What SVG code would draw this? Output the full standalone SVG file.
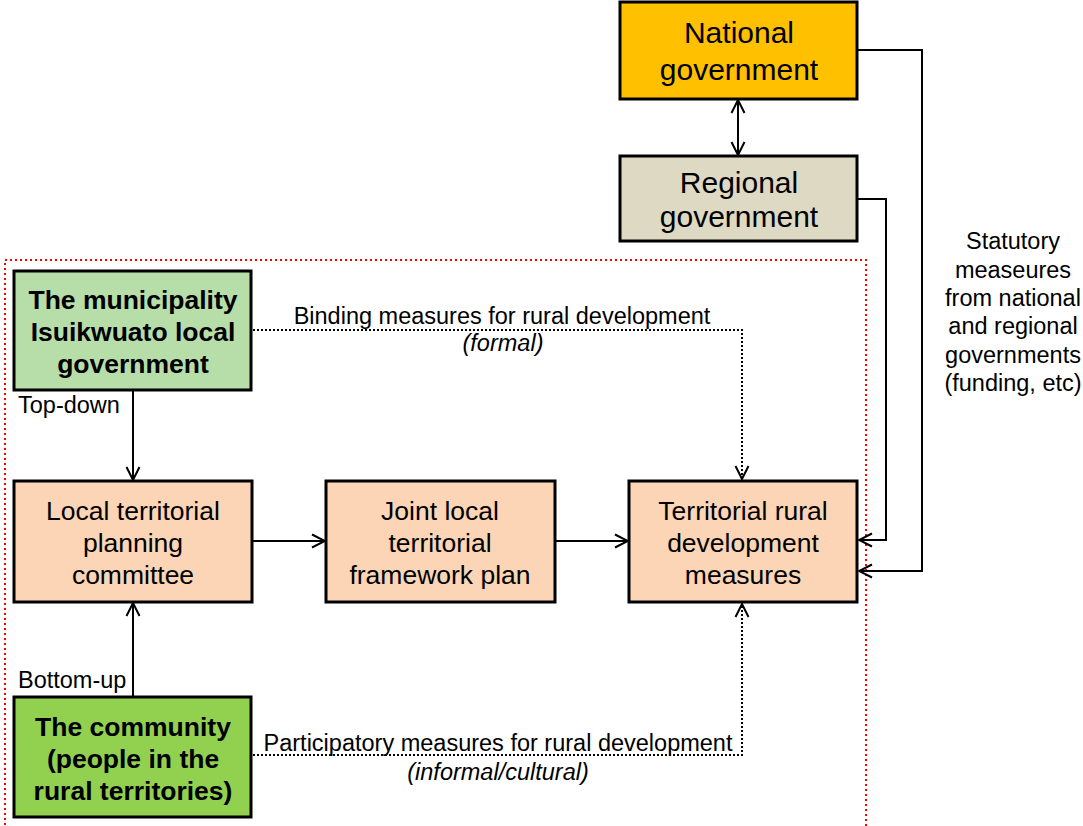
<svg xmlns="http://www.w3.org/2000/svg" width="1083" height="826" viewBox="0 0 1083 826">
  <defs>
    <marker id="arr" viewBox="0 0 16 16" refX="15" refY="8" markerWidth="16" markerHeight="16" markerUnits="userSpaceOnUse" orient="auto-start-reverse">
      <path d="M2,1.5 L15,8 L2,14.5" fill="none" stroke="#000" stroke-width="2"/>
    </marker>
    <style>
      text { font-family: "Liberation Sans", Arial, sans-serif; fill: #000; }
      .box { stroke: #000; stroke-width: 3; }
      .big { font-size: 30px; text-anchor: middle; }
      .mid { font-size: 26.5px; text-anchor: middle; }
      .bold { font-size: 26.5px; font-weight: bold; text-anchor: middle; }
      .lbl { font-size: 23.5px; }
      .ctr { text-anchor: middle; }
      .it { font-style: italic; }
      .link { fill: none; stroke: #000; stroke-width: 2; }
      .dot { fill: none; stroke: #000; stroke-width: 2; stroke-dasharray: 2 2; }
      .frame { fill: none; stroke: #f00; stroke-width: 2; stroke-dasharray: 2 3; }
    </style>
  </defs>

  <!-- local scope boundary -->
  <path class="frame" d="M5,830 L5,260 L866,260 L866,830"/>

  <g id="connectors">
    <line class="link" x1="738" y1="100" x2="738" y2="155" marker-start="url(#arr)" marker-end="url(#arr)"/>
    <polyline class="link" points="857,50 922,50 922,571 859,571" marker-end="url(#arr)"/>
    <polyline class="link" points="857,199 886,199 886,540 859,540" marker-end="url(#arr)"/>
    <line class="link" x1="133" y1="391" x2="133" y2="480" marker-end="url(#arr)"/>
    <line class="link" x1="133" y1="696" x2="133" y2="603" marker-end="url(#arr)"/>
    <line class="link" x1="253" y1="541" x2="325" y2="541" marker-end="url(#arr)"/>
    <line class="link" x1="555" y1="541" x2="628" y2="541" marker-end="url(#arr)"/>
    <polyline class="dot" points="253,330 742,330 742,479" marker-end="url(#arr)"/>
    <polyline class="dot" points="253,755 742,755 742,604" marker-end="url(#arr)"/>
  </g>

  <g id="national">
    <rect class="box" x="620" y="2" width="237" height="97" fill="#FFC000"/>
    <text class="big" x="739" y="43">National</text>
    <text class="big" x="739" y="80">government</text>
  </g>

  <g id="regional">
    <rect class="box" x="620" y="156" width="237" height="85" fill="#DDD9C3"/>
    <text class="big" x="739" y="193">Regional</text>
    <text class="big" x="739" y="227">government</text>
  </g>

  <g id="municipality">
    <rect class="box" x="14" y="271" width="237" height="119" fill="#B7DEA8"/>
    <text class="bold" x="133" y="309">The municipality</text>
    <text class="bold" x="133" y="341">Isuikwuato local</text>
    <text class="bold" x="133" y="373">government</text>
  </g>

  <g id="planning-committee">
    <rect class="box" x="14" y="481" width="238" height="121" fill="#FBD5B5"/>
    <text class="mid" x="133" y="520">Local territorial</text>
    <text class="mid" x="133" y="552">planning</text>
    <text class="mid" x="133" y="584">committee</text>
  </g>

  <g id="framework-plan">
    <rect class="box" x="326" y="481" width="229" height="121" fill="#FBD5B5"/>
    <text class="mid" x="440" y="520">Joint local</text>
    <text class="mid" x="440" y="552">territorial</text>
    <text class="mid" x="440" y="584">framework plan</text>
  </g>

  <g id="rural-measures">
    <rect class="box" x="629" y="481" width="228" height="121" fill="#FBD5B5"/>
    <text class="mid" x="743" y="520">Territorial rural</text>
    <text class="mid" x="743" y="552">development</text>
    <text class="mid" x="743" y="584">measures</text>
  </g>

  <g id="community">
    <rect class="box" x="14" y="697" width="237" height="120" fill="#92D050"/>
    <text class="bold" x="133" y="736">The community</text>
    <text class="bold" x="133" y="768">(people in the</text>
    <text class="bold" x="133" y="800">rural territories)</text>
  </g>

  <g id="labels">
    <text class="lbl" x="18" y="413">Top-down</text>
    <text class="lbl" x="18" y="688">Bottom-up</text>
    <text class="lbl ctr" x="502" y="324">Binding measures for rural development</text>
    <text class="lbl ctr it" x="503" y="351">(formal)</text>
    <text class="lbl ctr" x="498" y="751">Participatory measures for rural development</text>
    <text class="lbl ctr it" x="498" y="780">(informal/cultural)</text>
    <text class="lbl ctr" x="1013" y="249">Statutory</text>
    <text class="lbl ctr" x="1013" y="278">measeures</text>
    <text class="lbl ctr" x="1013" y="306">from national</text>
    <text class="lbl ctr" x="1013" y="334">and regional</text>
    <text class="lbl ctr" x="1013" y="363">governments</text>
    <text class="lbl ctr" x="1013" y="391">(funding, etc)</text>
  </g>
</svg>
